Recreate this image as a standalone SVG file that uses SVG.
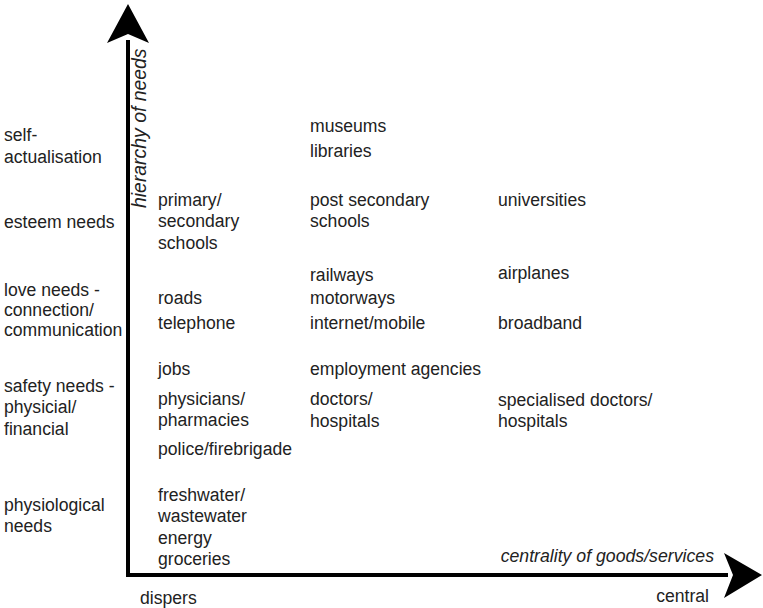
<svg xmlns="http://www.w3.org/2000/svg" width="763" height="608" viewBox="0 0 763 608">
<style>
text{font-family:"Liberation Sans",Arial,sans-serif;font-size:17.6px;fill:#222}
.it{font-style:italic}
.ax{stroke:#000;stroke-width:4;fill:none}
</style>
<rect width="763" height="608" fill="#fff"/>
<g id="connectors">
<path class="ax" d="M128,40 V575 H728"/>
<polygon points="128,4 107,43 128,34 149,43" fill="#000"/>
<polygon points="762,575 724,553 733,575 724,598" fill="#000"/>
</g>
<g id="axis-labels">
<text class="it" style="font-size:19.4px" transform="translate(146,208) rotate(-90)">hierarchy of needs</text>
<text class="it" style="font-size:17.7px" x="714" y="562" text-anchor="end">centrality of goods/services</text>
<text x="140" y="604">dispers</text>
<text x="709" y="602" text-anchor="end">central</text>
</g>
<g id="levels">
<text x="4" y="141">self-</text>
<text x="4" y="163">actualisation</text>
<text x="4" y="228">esteem needs</text>
<text x="4" y="296">love needs -</text>
<text x="4" y="316">connection/</text>
<text x="4" y="336">communication</text>
<text x="4" y="392">safety needs -</text>
<text x="4" y="413">physicial/</text>
<text x="4" y="435">financial</text>
<text x="4" y="511">physiological</text>
<text x="4" y="532">needs</text>
</g>
<g id="dispers-col">
<text x="158" y="206">primary/</text>
<text x="158" y="227">secondary</text>
<text x="158" y="249">schools</text>
<text x="158" y="304">roads</text>
<text x="158" y="329">telephone</text>
<text x="158" y="375">jobs</text>
<text x="158" y="405">physicians/</text>
<text x="158" y="426">pharmacies</text>
<text x="158" y="455">police/firebrigade</text>
<text x="158" y="501">freshwater/</text>
<text x="158" y="522">wastewater</text>
<text x="158" y="544">energy</text>
<text x="158" y="565">groceries</text>
</g>
<g id="middle-col">
<text x="310" y="132">museums</text>
<text x="310" y="157">libraries</text>
<text x="310" y="206">post secondary</text>
<text x="310" y="227">schools</text>
<text x="310" y="281">railways</text>
<text x="310" y="304">motorways</text>
<text x="310" y="329">internet/mobile</text>
<text x="310" y="375">employment agencies</text>
<text x="310" y="405">doctors/</text>
<text x="310" y="427">hospitals</text>
</g>
<g id="central-col">
<text x="498" y="206">universities</text>
<text x="498" y="279">airplanes</text>
<text x="498" y="329">broadband</text>
<text x="498" y="406">specialised doctors/</text>
<text x="498" y="427">hospitals</text>
</g>
</svg>
